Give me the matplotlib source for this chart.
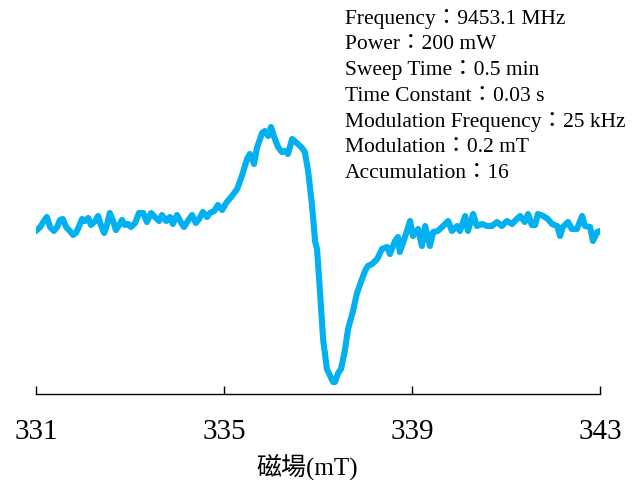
import matplotlib
matplotlib.use('Agg')
import matplotlib.pyplot as plt

# ── data ─────────────────────────────────────────────────────────────────────
field_mT = [
    331.00, 331.09, 331.17, 331.23, 331.30, 331.38, 331.45, 331.51, 331.57, 331.64,
    331.72, 331.79, 331.85, 331.91, 331.98, 332.04, 332.11, 332.17, 332.26, 332.32,
    332.38, 332.45, 332.51, 332.57, 332.64, 332.70, 332.77, 332.83, 332.89, 332.96,
    333.02, 333.11, 333.19, 333.28, 333.36, 333.45, 333.53, 333.62, 333.68, 333.77,
    333.85, 333.91, 334.00, 334.09, 334.15, 334.23, 334.32, 334.40, 334.47, 334.55,
    334.64, 334.70, 334.79, 334.87, 334.96, 335.06, 335.17, 335.28, 335.38, 335.49,
    335.55, 335.64, 335.70, 335.81, 335.87, 335.94, 336.00, 336.06, 336.15, 336.23,
    336.30, 336.36, 336.45, 336.55, 336.66, 336.72, 336.79, 336.87, 336.94, 336.98,
    337.04, 337.11, 337.19, 337.26, 337.32, 337.36, 337.43, 337.49, 337.57, 337.64,
    337.74, 337.83, 337.89, 338.00, 338.06, 338.15, 338.26, 338.36, 338.47, 338.53,
    338.64, 338.70, 338.74, 338.85, 338.96, 339.02, 339.13, 339.21, 339.28, 339.38,
    339.45, 339.55, 339.66, 339.77, 339.85, 339.96, 340.02, 340.13, 340.19, 340.30,
    340.38, 340.49, 340.60, 340.70, 340.81, 340.91, 341.02, 341.13, 341.23, 341.30,
    341.40, 341.47, 341.55, 341.62, 341.68, 341.79, 341.89, 341.98, 342.09, 342.15,
    342.21, 342.32, 342.40, 342.51, 342.62, 342.68, 342.79, 342.85, 342.94, 343.00,
]
intensity = [
    -4, 0, 6, 10, 0, -4, 0, 7, 8, 0,
    -4, -8, -6, 0, 8, 6, 9, 2, 6, 11,
    2, -6, 2, 14, 6, -3, 2, 7, 2, 3,
    0, 4, 14, 14, 5, 14, 10, 6, 12, 6,
    10, 3, 12, 4, 0, 6, 12, 4, 8, 15,
    10, 14, 16, 22, 17, 25, 31, 38, 51, 68,
    73, 63, 79, 94, 96, 91, 100, 91, 80, 75,
    76, 73, 88, 84, 79, 75, 56, 23, -15, -22,
    -63, -113, -142, -149, -155, -155, -146, -142, -124, -102,
    -85, -66, -58, -44, -39, -37, -32, -22, -20, -27,
    -14, -10, -25, -10, 6, -9, -2, -19, 1, -19,
    -5, -4, 1, 6, -4, 1, -4, 11, -4, 13,
    1, 3, 1, 1, 5, 1, 6, 3, 8, 11,
    5, 13, 2, 2, 13, 11, 8, 3, 1, -9,
    0, 5, -2, -2, 11, 1, 0, -14, -5, -4,
]
x_ticks = [331, 335, 339, 343]
x_label = '磁場(mT)'
params = [
    'Frequency：9453.1 MHz',
    'Power：200 mW',
    'Sweep Time：0.5 min',
    'Time Constant：0.03 s',
    'Modulation Frequency：25 kHz',
    'Modulation：0.2 mT',
    'Accumulation：16',
]

plt.rcParams['font.family'] = ['Liberation Serif', 'Noto Sans CJK TC', 'DejaVu Sans']

fig = plt.figure(figsize=(6.37, 4.81), dpi=100)
ax = fig.add_axes([36/637, 1 - 395/481, 564/637, 395/481])

ax.plot(field_mT, intensity, color='#00B0F0', lw=4.4,
        solid_joinstyle='round', solid_capstyle='round')
ax.set_xlim(331, 343)
ax.set_ylim(-167, 228)

for s in ['top', 'right', 'left']:
    ax.spines[s].set_visible(False)
ax.spines['bottom'].set_linewidth(1.0)
ax.set_yticks([])
ax.set_xticks(x_ticks)
ax.set_xticklabels([str(t) for t in x_ticks])
ax.tick_params(axis='x', direction='in', length=6, width=1, labelsize=21, pad=17)
ax.set_xlabel(x_label, fontsize=18)
ax.xaxis.set_label_coords(0.48, -0.148)

# acquisition parameters, one per line
for i, line in enumerate(params):
    fig.text(345/637, 1 - (19 + i * 25.7)/481, line, fontsize=15.5,
             ha='left', va='center')

fig.savefig('out.png', dpi=100)
